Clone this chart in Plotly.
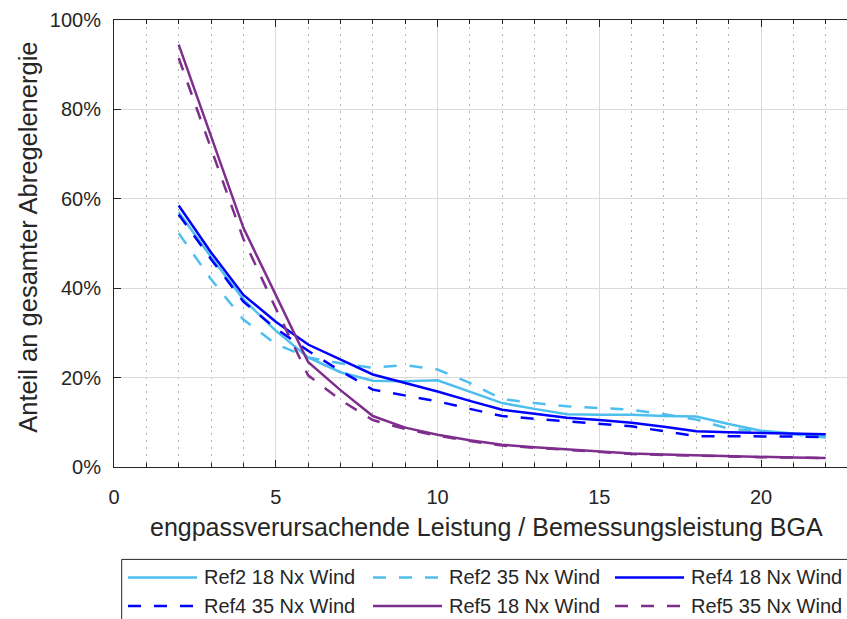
import plotly.graph_objects as go

# ---------------- data ----------------
x_vals = list(range(2, 23))

ref2_18 = [57, 47, 37.5, 30.5, 24.5, 21.2, 19.3, 19.2, 19.4, 16.8, 14.3, 13.0, 11.8, 11.7,
           11.7, 11.4, 11.3, 9.6, 8.1, 7.5, 6.8]
ref2_35 = [52.3, 42, 33, 27.5, 24.5, 23.2, 22.2, 22.8, 21.8, 18.8, 15.2, 14.3, 13.6, 13.2,
           12.8, 11.8, 10.6, 8.6, 8.0, 7.3, 6.6]
ref4_18 = [58.5, 48, 38.5, 32.5, 27.4, 24.0, 20.7, 18.8, 16.9, 14.8, 12.8, 11.9, 11.0, 10.5,
           9.9, 9.0, 8.0, 7.8, 7.6, 7.4, 7.3]
ref4_35 = [56.5, 46.5, 37, 31, 26, 21.5, 17.3, 16.0, 14.7, 13.0, 11.4, 10.8, 10.2, 9.7,
           9.1, 8.0, 6.9, 6.9, 6.9, 6.8, 6.7]
ref5_18 = [94.5, 74, 53.5, 38.5, 23.5, 17.2, 11.4, 8.8, 7.2, 6.0, 5.0, 4.4, 3.9, 3.5,
           3.0, 2.8, 2.6, 2.4, 2.2, 2.1, 2.0]
ref5_35 = [91.5, 71, 51, 35.5, 20.5, 15.0, 10.5, 8.5, 7.0, 5.8, 4.8, 4.3, 3.8, 3.4,
           2.9, 2.7, 2.5, 2.3, 2.2, 2.1, 2.0]

series_names = ["Ref2 18 Nx Wind", "Ref2 35 Nx Wind", "Ref4 18 Nx Wind",
                "Ref4 35 Nx Wind", "Ref5 18 Nx Wind", "Ref5 35 Nx Wind"]
series_values = [ref2_18, ref2_35, ref4_18, ref4_35, ref5_18, ref5_35]

x_ticks = [0, 5, 10, 15, 20]
y_ticks = [0, 20, 40, 60, 80, 100]
y_tick_labels = ["0%", "20%", "40%", "60%", "80%", "100%"]

x_title = "engpassverursachende Leistung / Bemessungsleistung BGA"
y_title = "Anteil an gesamter Abregelenergie"

# ---------------- styles ----------------
LIGHT = "#4DBEEE"
BLUE = "#0000FF"
PURPLE = "#7E2F8E"
colors = [LIGHT, LIGHT, BLUE, BLUE, PURPLE, PURPLE]
DASH = "13px,13px"
dashes = ["solid", DASH, "solid", DASH, "solid", DASH]
AX = "#262626"
FONT = "Liberation Sans, Arial, sans-serif"

W, H = 847, 619
L, T = 114, 20
B_PX = 467.5
R_PX = 847
PW = R_PX - L
PH = B_PX - T


def px_x(px):
    return (px - L) / PW


def px_y(py):
    return (B_PX - py) / PH


fig = go.Figure()
for name, vals, c, d in zip(series_names, series_values, colors, dashes):
    fig.add_trace(go.Scatter(x=x_vals, y=vals, mode="lines", name=name,
                             line=dict(color=c, width=2.5, dash=d),
                             showlegend=False, hoverinfo="skip"))

axis_common = dict(
    showline=True, linecolor=AX, linewidth=1,
    ticks="inside", tickcolor=AX, ticklen=7, tickwidth=1,
    showgrid=True, gridcolor="#dadada", gridwidth=1,
    zeroline=False,
    tickfont=dict(family=FONT, size=20, color=AX),
)

fig.update_layout(
    width=W, height=H,
    margin=dict(l=L, r=W - R_PX, t=T, b=H - B_PX, pad=0),
    paper_bgcolor="white", plot_bgcolor="white",
    font=dict(family=FONT, color=AX),
    xaxis=dict(
        range=[0, PW / 32.35], tickvals=x_ticks, mirror="ticks",
        ticklabelstandoff=12,
        minor=dict(dtick=1, tick0=0, ticks="inside", ticklen=4, tickcolor=AX,
                   showgrid=True, gridcolor="#b5b5b5", gridwidth=1, griddash="2px,5px"),
        **axis_common,
    ),
    yaxis=dict(
        range=[0, 100], tickvals=y_ticks, ticktext=y_tick_labels, mirror=False,
        ticklabelstandoff=8,
        **axis_common,
    ),
)

annotations = [
    dict(text=x_title, xref="x", yref="paper", x=11.5, y=px_y(528),
         xanchor="center", yanchor="middle", showarrow=False,
         font=dict(family=FONT, size=25, color=AX)),
    dict(text=y_title, xref="paper", yref="paper", x=px_x(28), y=px_y(238),
         xanchor="center", yanchor="middle", textangle=-90, showarrow=False,
         font=dict(family=FONT, size=25.5, color=AX)),
]

shapes = [
    dict(type="rect", xref="paper", yref="paper",
         x0=px_x(121.7), x1=px_x(880), y0=px_y(560), y1=px_y(660),
         line=dict(color=AX, width=1), fillcolor="white", layer="above"),
]

col_line_x = [128, 373, 615]
row_y = [578, 606.7]
line_len = 69
for i, (name, c, d) in enumerate(zip(series_names, colors, dashes)):
    r, col = divmod(i, 3)
    x0 = col_line_x[col]
    y = row_y[r]
    shapes.append(dict(type="line", xref="paper", yref="paper",
                       x0=px_x(x0), x1=px_x(x0 + line_len), y0=px_y(y), y1=px_y(y),
                       line=dict(color=c, width=2.5, dash=d), layer="above"))
    annotations.append(dict(text=name, xref="paper", yref="paper",
                            x=px_x(x0 + line_len + 5), y=px_y(y),
                            xanchor="left", yanchor="middle", showarrow=False,
                            font=dict(family=FONT, size=20, color=AX)))

fig.update_layout(shapes=shapes, annotations=annotations)

fig.write_html("out.html")
